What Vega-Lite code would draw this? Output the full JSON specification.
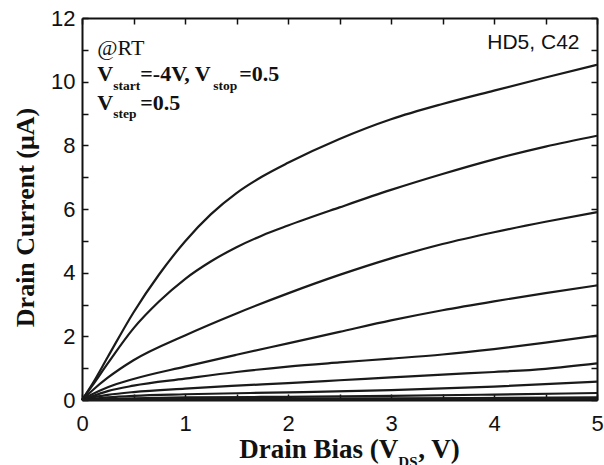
{
  "$schema": "https://vega.github.io/schema/vega-lite/v6.json",
  "width": 515,
  "height": 382,
  "autosize": {"type": "none"},
  "padding": {"left": 82, "top": 18, "right": 7, "bottom": 65},
  "background": "white",
  "config": {"view": {"stroke": null}},
  "datasets": {
    "curves": [
      {"g":"0.5","x":0,"y":0},{"g":"0.5","x":0.1,"y":0.5},{"g":"0.5","x":0.25,"y":1.35},{"g":"0.5","x":0.5,"y":2.75},{"g":"0.5","x":0.75,"y":3.95},{"g":"0.5","x":1,"y":4.98},{"g":"0.5","x":1.25,"y":5.83},{"g":"0.5","x":1.5,"y":6.5},{"g":"0.5","x":1.75,"y":7.02},{"g":"0.5","x":2,"y":7.45},{"g":"0.5","x":2.5,"y":8.2},{"g":"0.5","x":3,"y":8.82},{"g":"0.5","x":3.5,"y":9.3},{"g":"0.5","x":4,"y":9.72},{"g":"0.5","x":4.5,"y":10.13},{"g":"0.5","x":5,"y":10.53},
      {"g":"0","x":0,"y":0},{"g":"0","x":0.1,"y":0.45},{"g":"0","x":0.25,"y":1.15},{"g":"0","x":0.5,"y":2.25},{"g":"0","x":0.75,"y":3.1},{"g":"0","x":1,"y":3.8},{"g":"0","x":1.25,"y":4.35},{"g":"0","x":1.5,"y":4.8},{"g":"0","x":1.75,"y":5.17},{"g":"0","x":2,"y":5.48},{"g":"0","x":2.5,"y":6.05},{"g":"0","x":3,"y":6.6},{"g":"0","x":3.5,"y":7.1},{"g":"0","x":4,"y":7.56},{"g":"0","x":4.5,"y":7.96},{"g":"0","x":5,"y":8.3},
      {"g":"-0.5","x":0,"y":0},{"g":"-0.5","x":0.1,"y":0.3},{"g":"-0.5","x":0.25,"y":0.7},{"g":"-0.5","x":0.5,"y":1.25},{"g":"-0.5","x":1,"y":2.03},{"g":"-0.5","x":1.5,"y":2.72},{"g":"-0.5","x":2,"y":3.35},{"g":"-0.5","x":2.5,"y":3.93},{"g":"-0.5","x":3,"y":4.45},{"g":"-0.5","x":3.5,"y":4.9},{"g":"-0.5","x":4,"y":5.27},{"g":"-0.5","x":4.5,"y":5.6},{"g":"-0.5","x":5,"y":5.9},
      {"g":"-1","x":0,"y":0},{"g":"-1","x":0.1,"y":0.18},{"g":"-1","x":0.25,"y":0.4},{"g":"-1","x":0.5,"y":0.66},{"g":"-1","x":1,"y":1.05},{"g":"-1","x":1.5,"y":1.42},{"g":"-1","x":2,"y":1.78},{"g":"-1","x":2.5,"y":2.14},{"g":"-1","x":3,"y":2.5},{"g":"-1","x":3.5,"y":2.82},{"g":"-1","x":4,"y":3.1},{"g":"-1","x":4.5,"y":3.36},{"g":"-1","x":5,"y":3.6},
      {"g":"-1.5","x":0,"y":0},{"g":"-1.5","x":0.1,"y":0.12},{"g":"-1.5","x":0.25,"y":0.28},{"g":"-1.5","x":0.5,"y":0.45},{"g":"-1.5","x":1,"y":0.67},{"g":"-1.5","x":1.5,"y":0.88},{"g":"-1.5","x":2,"y":1.05},{"g":"-1.5","x":2.5,"y":1.18},{"g":"-1.5","x":3,"y":1.3},{"g":"-1.5","x":3.5,"y":1.43},{"g":"-1.5","x":4,"y":1.6},{"g":"-1.5","x":4.5,"y":1.8},{"g":"-1.5","x":5,"y":2.02},
      {"g":"-2","x":0,"y":0},{"g":"-2","x":0.1,"y":0.08},{"g":"-2","x":0.25,"y":0.16},{"g":"-2","x":0.5,"y":0.25},{"g":"-2","x":1,"y":0.36},{"g":"-2","x":1.5,"y":0.45},{"g":"-2","x":2,"y":0.53},{"g":"-2","x":2.5,"y":0.62},{"g":"-2","x":3,"y":0.71},{"g":"-2","x":3.5,"y":0.8},{"g":"-2","x":4,"y":0.88},{"g":"-2","x":4.5,"y":0.98},{"g":"-2","x":5,"y":1.15},
      {"g":"-2.5","x":0,"y":0},{"g":"-2.5","x":0.25,"y":0.08},{"g":"-2.5","x":0.5,"y":0.13},{"g":"-2.5","x":1,"y":0.18},{"g":"-2.5","x":2,"y":0.24},{"g":"-2.5","x":3,"y":0.31},{"g":"-2.5","x":4,"y":0.42},{"g":"-2.5","x":5,"y":0.58},
      {"g":"-3","x":0,"y":0},{"g":"-3","x":0.5,"y":0.05},{"g":"-3","x":1,"y":0.08},{"g":"-3","x":2,"y":0.1},{"g":"-3","x":3,"y":0.13},{"g":"-3","x":4,"y":0.17},{"g":"-3","x":5,"y":0.22},
      {"g":"-3.5","x":0,"y":0},{"g":"-3.5","x":1,"y":0.03},{"g":"-3.5","x":3,"y":0.05},{"g":"-3.5","x":5,"y":0.08},
      {"g":"-4","x":0,"y":0},{"g":"-4","x":1,"y":0.01},{"g":"-4","x":3,"y":0.02},{"g":"-4","x":5,"y":0.03}
    ],
    "notes": [
      {"kind":"plain","label":"@RT","x":0.149,"y":10.85},
      {"kind":"main","label":"V","x":0.149,"y":10.01},
      {"kind":"sub","label":"start","x":0.304,"y":9.75},
      {"kind":"main","label":"=-4V, V","x":0.566,"y":10.01},
      {"kind":"sub","label":"stop","x":1.275,"y":9.75},
      {"kind":"main","label":"=0.5","x":1.527,"y":10.01},
      {"kind":"main","label":"V","x":0.149,"y":9.1},
      {"kind":"sub","label":"step","x":0.304,"y":8.87},
      {"kind":"main","label":"=0.5","x":0.566,"y":9.1},
      {"kind":"sans","label":"HD5, C42","x":4.83,"y":11.03},
      {"kind":"titleL","label":"Drain Bias (V","x":3.071,"y":-1.824},
      {"kind":"titleS","label":"DS","x":3.071,"y":-2.107},
      {"kind":"titleR","label":", V)","x":3.265,"y":-1.824}
    ]
  },
  "resolve": {"axis": {"x": "independent", "y": "independent"}},
  "layer": [
    {
      "data": {"name": "curves"},
      "mark": {"type": "line", "color": "#1a1a1a", "strokeWidth": 2.2, "interpolate": "monotone"},
      "encoding": {
        "x": {"field": "x", "type": "quantitative",
          "scale": {"domain": [0, 5], "nice": false, "zero": false},
          "axis": {"orient": "bottom", "values": [0,0.5,1,1.5,2,2.5,3,3.5,4,4.5,5],
            "labelExpr": "datum.value % 1 === 0 ? '' + datum.value : ''",
            "title": null, "grid": false, "tickSize": -6, "tickWidth": 1.5, "tickColor": "#111",
            "domainColor": "#111", "domainWidth": 2, "labelFont": "Liberation Sans", "labelFontSize": 22,
            "labelColor": "#111", "labelPadding": 19, "labelFlush": false, "labelOverlap": false}},
        "y": {"field": "y", "type": "quantitative",
          "scale": {"domain": [0, 12], "nice": false},
          "axis": {"orient": "left", "values": [0,1,2,3,4,5,6,7,8,9,10,11,12],
            "labelExpr": "datum.value % 2 === 0 ? '' + datum.value : ''",
            "title": "Drain Current (μA)", "titleFont": "Liberation Serif", "titleFontWeight": "bold",
            "titleFontSize": 26, "titleColor": "#111", "titleX": -49, "titleY": 199, "titleAngle": -90,
            "titleAlign": "center", "titleBaseline": "alphabetic",
            "grid": false, "tickSize": -6, "tickWidth": 1.5, "tickColor": "#111",
            "domainColor": "#111", "domainWidth": 2, "labelFont": "Liberation Sans", "labelFontSize": 22,
            "labelColor": "#111", "labelPadding": 13, "labelFlush": false, "labelOverlap": false}},
        "detail": {"field": "g", "type": "nominal"}
      }
    },
    {
      "data": {"name": "notes"},
      "transform": [{"filter": "datum.kind === 'main'"}],
      "mark": {"type": "text", "font": "Liberation Serif", "fontWeight": "bold", "fontSize": 22, "align": "left", "baseline": "alphabetic", "color": "#111"},
      "encoding": {
        "x": {"field": "x", "type": "quantitative", "scale": {"domain": [0, 5], "nice": false, "zero": false},
          "axis": {"orient": "top", "values": [0,0.5,1,1.5,2,2.5,3,3.5,4,4.5,5], "labels": false, "title": null, "grid": false,
            "tickSize": -6, "tickWidth": 1.5, "tickColor": "#111", "domainColor": "#111", "domainWidth": 2}},
        "y": {"field": "y", "type": "quantitative", "scale": {"domain": [0, 12], "nice": false},
          "axis": {"orient": "right", "values": [0,1,2,3,4,5,6,7,8,9,10,11,12], "labels": false, "title": null, "grid": false,
            "tickSize": -6, "tickWidth": 1.5, "tickColor": "#111", "domainColor": "#111", "domainWidth": 2}},
        "text": {"field": "label"}
      }
    },
    {
      "data": {"name": "notes"},
      "transform": [{"filter": "datum.kind === 'plain'"}],
      "mark": {"type": "text", "font": "Liberation Serif", "fontSize": 22, "align": "left", "baseline": "alphabetic", "color": "#111"},
      "encoding": {
        "x": {"field": "x", "type": "quantitative", "axis": null},
        "y": {"field": "y", "type": "quantitative", "axis": null},
        "text": {"field": "label"}
      }
    },
    {
      "data": {"name": "notes"},
      "transform": [{"filter": "datum.kind === 'sub'"}],
      "mark": {"type": "text", "font": "Liberation Serif", "fontWeight": "bold", "fontSize": 13.5, "align": "left", "baseline": "alphabetic", "color": "#111"},
      "encoding": {
        "x": {"field": "x", "type": "quantitative", "axis": null},
        "y": {"field": "y", "type": "quantitative", "axis": null},
        "text": {"field": "label"}
      }
    },
    {
      "data": {"name": "notes"},
      "transform": [{"filter": "datum.kind === 'sans'"}],
      "mark": {"type": "text", "font": "Liberation Sans", "fontSize": 21, "align": "right", "baseline": "alphabetic", "color": "#111"},
      "encoding": {
        "x": {"field": "x", "type": "quantitative", "axis": null},
        "y": {"field": "y", "type": "quantitative", "axis": null},
        "text": {"field": "label"}
      }
    },
    {
      "data": {"name": "notes"},
      "transform": [{"filter": "datum.kind === 'titleL'"}],
      "mark": {"type": "text", "font": "Liberation Serif", "fontWeight": "bold", "fontSize": 27, "align": "right", "baseline": "alphabetic", "color": "#111"},
      "encoding": {
        "x": {"field": "x", "type": "quantitative", "axis": null},
        "y": {"field": "y", "type": "quantitative", "axis": null},
        "text": {"field": "label"}
      }
    },
    {
      "data": {"name": "notes"},
      "transform": [{"filter": "datum.kind === 'titleR'"}],
      "mark": {"type": "text", "font": "Liberation Serif", "fontWeight": "bold", "fontSize": 27, "align": "left", "baseline": "alphabetic", "color": "#111"},
      "encoding": {
        "x": {"field": "x", "type": "quantitative", "axis": null},
        "y": {"field": "y", "type": "quantitative", "axis": null},
        "text": {"field": "label"}
      }
    },
    {
      "data": {"name": "notes"},
      "transform": [{"filter": "datum.kind === 'titleS'"}],
      "mark": {"type": "text", "font": "Liberation Serif", "fontWeight": "bold", "fontSize": 15, "align": "left", "baseline": "alphabetic", "color": "#111"},
      "encoding": {
        "x": {"field": "x", "type": "quantitative", "axis": null},
        "y": {"field": "y", "type": "quantitative", "axis": null},
        "text": {"field": "label"}
      }
    }
  ]
}
